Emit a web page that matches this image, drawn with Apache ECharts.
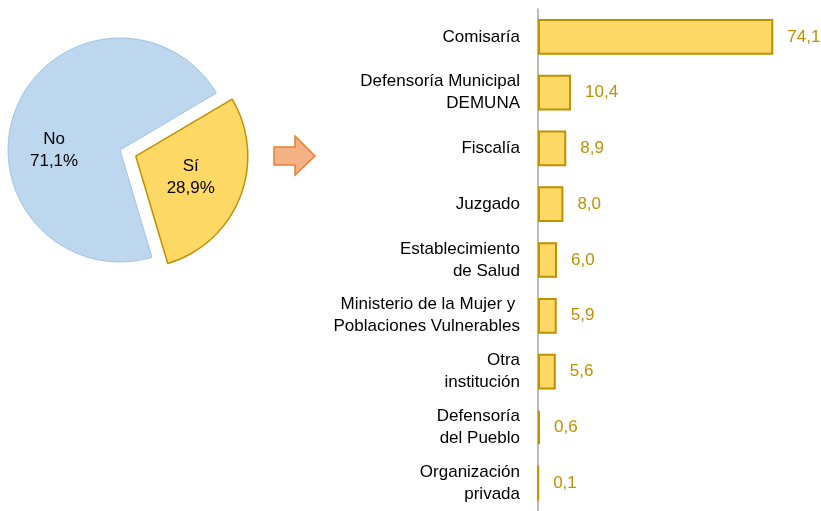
<!DOCTYPE html>
<html>
<head>
<meta charset="utf-8">
<script src="https://cdn.jsdelivr.net/npm/echarts@6/dist/echarts.min.js"></script>
<style>
  html, body { margin: 0; padding: 0; background: #fff; }
  #chart { width: 821px; height: 511px; }
</style>
</head>
<body>
<div id="chart"></div>
<script>
// pie: did the person seek help
const pieNames = ["Sí", "No"];
const pieValues = [28.9, 71.1];
const pieLabels = ["28,9%", "71,1%"];

// bars: where help was sought
const barCategories = [
  "Comisaría",
  "Defensoría Municipal\nDEMUNA",
  "Fiscalía",
  "Juzgado",
  "Establecimiento\nde Salud",
  "Ministerio de la Mujer y \nPoblaciones Vulnerables",
  "Otra\ninstitución",
  "Defensoría\ndel Pueblo",
  "Organización\nprivada"
];
const barValues = [74.1, 10.4, 8.9, 8.0, 6.0, 5.9, 5.6, 0.6, 0.1];

const font = "Liberation Sans, Arial, sans-serif";

const chart = echarts.init(document.getElementById("chart"));

chart.setOption({
  animation: false,
  grid: { left: 538, top: 9, width: 254, height: 508, containLabel: false },
  xAxis: {
    type: "value",
    min: 0,
    max: 80,
    show: false
  },
  yAxis: {
    type: "category",
    data: barCategories,
    inverse: true,
    axisLine: { show: true, lineStyle: { color: "#A6A6A6", width: 1.5 } },
    axisTick: { show: false },
    axisLabel: {
      margin: 18,
      color: "#000",
      fontFamily: font,
      fontSize: 17,
      lineHeight: 22,
      align: "right"
    }
  },
  series: [
    {
      type: "bar",
      data: barValues,
      barCategoryGap: "36%",
      itemStyle: { color: "#FFD966", borderColor: "#BF9000", borderWidth: 2 },
      label: {
        show: true,
        position: "right",
        distance: 14,
        color: "#BF9000",
        fontFamily: font,
        fontSize: 17,
        formatter: (p) => p.value.toFixed(1).replace(".", ",")
      }
    },
    {
      type: "pie",
      center: [120, 150],
      radius: 112,
      startAngle: 30.6,
      clockwise: true,
      selectedMode: "single",
      selectedOffset: 17,
      label: {
        show: true,
        position: "inside",
        color: "#000",
        fontFamily: font,
        fontSize: 17,
        lineHeight: 22,
        formatter: (p) => p.name + "\n" + pieLabels[p.dataIndex]
      },
      labelLine: { show: false },
      emphasis: { disabled: true },
      data: pieNames.map((n, i) => ({
        name: n,
        value: pieValues[i],
        selected: i === 0,
        label: { offset: i === 0 ? [0, 8] : [-11, 22] },
        itemStyle: i === 0
          ? { color: "#FFD966", borderColor: "#BF9000", borderWidth: 1.5 }
          : { color: "#BDD7EE", borderColor: "#9DC3E6", borderWidth: 1 }
      }))
    }
  ],
  graphic: [
    {
      type: "polygon",
      shape: {
        points: [[274, 147], [295, 147], [295, 136], [315, 156], [295, 175], [295, 165], [274, 165]]
      },
      style: { fill: "#F4B183", stroke: "#ED7D31", lineWidth: 1.5 }
    }
  ]
});
</script>
</body>
</html>
